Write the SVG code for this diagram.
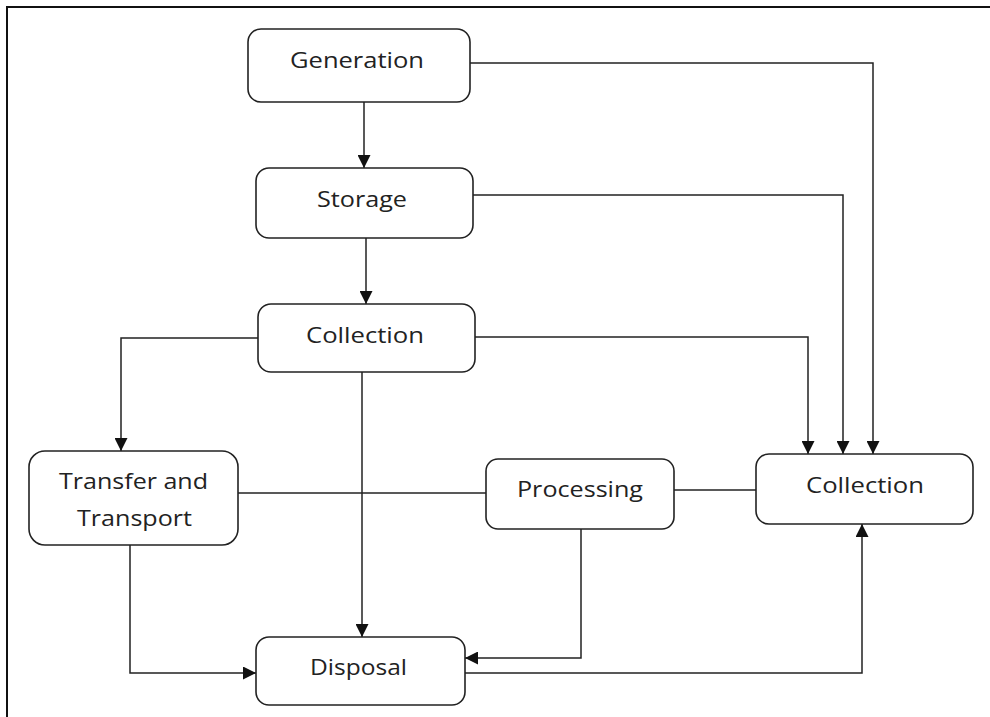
<svg xmlns="http://www.w3.org/2000/svg" width="990" height="717" viewBox="0 0 990 717">
<defs>
<style>
.box{fill:#fff;stroke:#222;stroke-width:1.6}
.lbl{font-family:"Open Sans","Noto Sans",sans-serif;font-size:22px;fill:#222;text-anchor:middle}
.ln{fill:none;stroke:#222;stroke-width:1.5}
</style>
<marker id="ah" viewBox="0 0 10 10" refX="10" refY="5" markerWidth="13" markerHeight="13" markerUnits="userSpaceOnUse" orient="auto">
<path d="M0,0 L10,5 L0,10 z" fill="#111"/>
</marker>
</defs>
<rect width="990" height="717" fill="#fff"/>
<path d="M7,717 V7 H990" fill="none" stroke="#111" stroke-width="2"/>
<g id="connectors">
<path class="ln" d="M364,102 V168" marker-end="url(#ah)"/>
<path class="ln" d="M366,238 V304" marker-end="url(#ah)"/>
<path class="ln" d="M470,63 H873 V454" marker-end="url(#ah)"/>
<path class="ln" d="M473,195 H843 V454" marker-end="url(#ah)"/>
<path class="ln" d="M475,337 H808 V454" marker-end="url(#ah)"/>
<path class="ln" d="M258,338 H121 V451" marker-end="url(#ah)"/>
<path class="ln" d="M362,372 V637" marker-end="url(#ah)"/>
<path class="ln" d="M238,493 H486"/>
<path class="ln" d="M674,490 H756"/>
<path class="ln" d="M130,545 V673 H256" marker-end="url(#ah)"/>
<path class="ln" d="M581,529 V658 H465" marker-end="url(#ah)"/>
<path class="ln" d="M465,673 H862 V524" marker-end="url(#ah)"/>
</g>
<g id="generation"><rect class="box" x="248" y="29" width="222" height="73" rx="13"/><text class="lbl" x="357" y="68" textLength="134" lengthAdjust="spacingAndGlyphs">Generation</text></g>
<g id="storage"><rect class="box" x="256" y="168" width="217" height="70" rx="13"/><text class="lbl" x="362" y="207" textLength="90" lengthAdjust="spacingAndGlyphs">Storage</text></g>
<g id="collection1"><rect class="box" x="258" y="304" width="217" height="68" rx="13"/><text class="lbl" x="365" y="343" textLength="118" lengthAdjust="spacingAndGlyphs">Collection</text></g>
<g id="transfer"><rect class="box" x="29" y="451" width="209" height="94" rx="16"/><text class="lbl" x="133.5" y="489" textLength="149" lengthAdjust="spacingAndGlyphs">Transfer and</text><text class="lbl" x="134.5" y="526" textLength="115" lengthAdjust="spacingAndGlyphs">Transport</text></g>
<g id="processing"><rect class="box" x="486" y="459" width="188" height="70" rx="12"/><text class="lbl" x="580" y="497" textLength="126" lengthAdjust="spacingAndGlyphs">Processing</text></g>
<g id="collection2"><rect class="box" x="756" y="454" width="217" height="70" rx="13"/><text class="lbl" x="865" y="493" textLength="118" lengthAdjust="spacingAndGlyphs">Collection</text></g>
<g id="disposal"><rect class="box" x="256" y="637" width="209" height="68" rx="13"/><text class="lbl" x="358.5" y="675" textLength="97" lengthAdjust="spacingAndGlyphs">Disposal</text></g>
</svg>
